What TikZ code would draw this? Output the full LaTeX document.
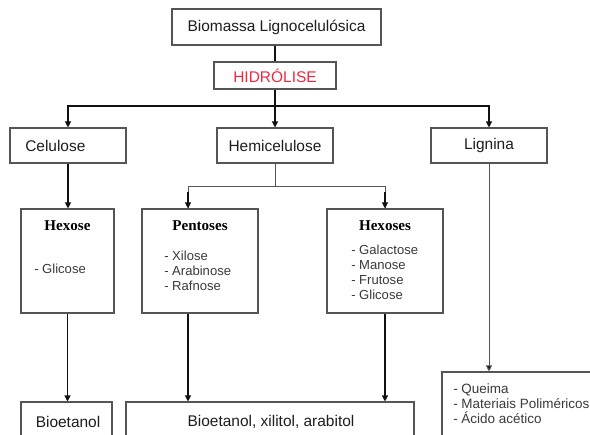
\documentclass[tikz,border=0pt]{standalone}
\usepackage{fontspec}
\setmainfont{Liberation Sans}
\newfontfamily\titlefont{Liberation Serif}
\usetikzlibrary{arrows.meta}
\definecolor{boxc}{HTML}{555555}
\definecolor{txtc}{HTML}{1E1E1E}
\definecolor{listc}{HTML}{3A3A3A}
\definecolor{linec}{HTML}{111111}
\definecolor{thinc}{HTML}{555555}
\definecolor{hidred}{HTML}{F0283C}
\begin{document}
\begin{tikzpicture}[x=0.75pt,y=-0.75pt,
  box/.style={draw=boxc, line width=0.8pt, inner sep=0pt, fill=white},
  main/.style={font=\fontsize{11.6}{13}\selectfont, text=txtc, inner sep=0pt},
  lst/.style={font=\fontsize{9.8}{11.25}\selectfont, text=listc, align=left, inner sep=0pt},
  ttl/.style={font=\titlefont\bfseries\fontsize{11.3}{13}\selectfont, text=black, inner sep=0pt},
  conn/.style={draw=linec, line width=0.8pt},
  arr/.style={conn, -{Triangle[length=4.5pt,width=4.5pt]}},
  thinline/.style={draw=thinc, line width=0.7pt},
  thinarr/.style={thinline, -{Triangle[length=4.5pt,width=4.5pt,fill=linec]}}]
\useasboundingbox (0,0) rectangle (590,435);
\clip (0,0) rectangle (590,435);
\fill[white] (0,0) rectangle (590,435);

% top
\node[box, main, minimum width=156.75pt, minimum height=27pt] (bio) at (276.5,27) {Biomassa Lignocelulósica};
\node[box, main, text=hidred, minimum width=91.5pt, minimum height=20.25pt] (hid) at (275,75.5) {HIDRÓLISE};

% level 2
\node[box, minimum width=87pt, minimum height=26.25pt] (cel) at (68,145.5) {};
\node[main, anchor=west] (celt) at (25,145.5) {Celulose};
\node[box, main, minimum width=87pt, minimum height=26.25pt] (hem) at (275,145.5) {Hemicelulose};
\node[box, main, minimum width=87pt, minimum height=26.25pt] (lig) at (489,145.5) {Lignina};

% level 3
\node[box, minimum width=69.75pt, minimum height=78pt] (hx1) at (67.5,261) {};
\node[ttl] (hx1t) at (67.5,226) {Hexose};
\node[lst, anchor=west] (hx1l) at (34,269) {- Glicose};

\node[box, minimum width=87pt, minimum height=78pt] (pen) at (200,261) {};
\node[ttl] (pent) at (200,226) {Pentoses};
\node[lst, anchor=west] (penl) at (164,271) {- Xilose\\- Arabinose\\- Rafnose};

\node[box, minimum width=87pt, minimum height=78pt] (hx2) at (385,261) {};
\node[ttl] (hx2t) at (385,226) {Hexoses};
\node[lst, anchor=west] (hx2l) at (351,272.5) {- Galactose\\- Manose\\- Frutose\\- Glicose};

% bottom
\node[box, minimum width=68.25pt, minimum height=33pt] (bet) at (66.5,424) {};
\node[main] (bett) at (68,422) {Bioetanol};
\node[box, minimum width=216pt, minimum height=33pt] (prod) at (270,424) {};
\node[main] (prodt) at (271,422) {Bioetanol, xilitol, arabitol};
\node[box, minimum width=118.5pt, minimum height=55.5pt] (ligo) at (521,409) {};
\node[lst, anchor=west, font=\fontsize{10.1}{11.25}\selectfont] (ligol) at (453,404) {- Queima\\- Materiais Poliméricos\\- Ácido acético};

% connectors
\coordinate (j1) at (275,106);
\coordinate (j2) at (275,186);
\draw[conn] (hid.north |- bio.south) -- (hid.north);
\draw[conn] (hid.south) -- (j1);
\draw[arr] (j1) -| (cel.north);
\draw[arr] (j1) -| (lig.north);
\draw[arr] (j1) -- (hem.north);
\draw[arr] (cel.south) -- (cel.south |- hx1.north);
\draw[arr] (hx1.south) -- (hx1.south |- bet.north);
\draw[thinline] (hem.south) -- (j2);
\draw[thinline] (j2) -| ([xshift=-9pt]pen.north);
\draw[thinline] (j2) -| (hx2.north);
\draw[arr] ([xshift=-9pt,yshift=12pt]pen.north) -- ([xshift=-9pt]pen.north);
\draw[arr] ([yshift=12pt]hx2.north) -- (hx2.north);
\draw[arr] ([xshift=-9pt]pen.south) -- ([xshift=-9pt]pen.south |- prod.north);
\draw[arr] (hx2.south) -- (hx2.south |- prod.north);
\draw[thinarr] (lig.south) -- (lig.south |- ligo.north);
\end{tikzpicture}
\end{document}
